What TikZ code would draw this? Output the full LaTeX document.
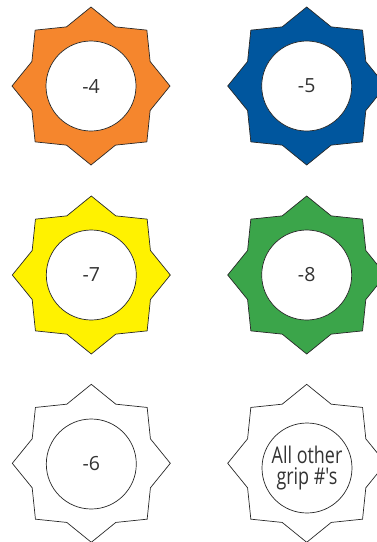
\documentclass[tikz,border=0pt]{standalone}
\usepackage{fontspec}
\setmainfont{Open Sans}
\newfontfamily\condfont[FakeStretch=0.78]{Open Sans}
\definecolor{gorange}{RGB}{245,134,45}
\definecolor{gblue}{RGB}{0,86,158}
\definecolor{gyellow}{RGB}{255,242,0}
\definecolor{ggreen}{RGB}{59,165,74}
\definecolor{ink}{RGB}{40,40,40}
\definecolor{txt}{RGB}{51,51,51}
\tikzset{
  starline/.style={draw=ink, line width=0.7pt, line join=miter},
  hole/.style={circle, draw=ink, line width=0.7pt, fill=white, minimum size=90pt, inner sep=0pt, text=txt, font=\fontsize{19.5}{21}\selectfont},
}
\newcommand{\gearpath}[2]{%
  \begin{scope}[shift={#1}]
    \path[starline, fill=#2] (90:79) \foreach \i in {1,...,15}{ -- ({90+22.5*\i}:{mod(\i,2)==1 ? 64 : 79}) } -- cycle;
  \end{scope}}
\begin{document}
\begin{tikzpicture}[x=1pt,y=1pt]
\useasboundingbox (0,0) rectangle (377,-542);
\begin{scope}
\clip (0,0) rectangle (377,-542);
\gearpath{(91,-86)}{gorange}
\gearpath{(306.7,-86)}{gblue}
\gearpath{(91.3,-275)}{gyellow}
\gearpath{(306.7,-275)}{ggreen}
\gearpath{(91.3,-463.3)}{white}
\gearpath{(306.7,-463.3)}{white}
\node[hole] (g4) at (91,-86) {-4};
\node[hole] (g5) at (306.7,-86) {-5};
\node[hole] (g7) at (91.3,-275) {-7};
\node[hole] (g8) at (306.7,-275) {-8};
\node[hole] (g6) at (91.3,-464) {-6};
\node[hole, align=center, font=\condfont\fontsize{23}{20.5}\selectfont] (gall) at (307,-468) {All other\\grip \#'s};
\end{scope}
\end{tikzpicture}
\end{document}
